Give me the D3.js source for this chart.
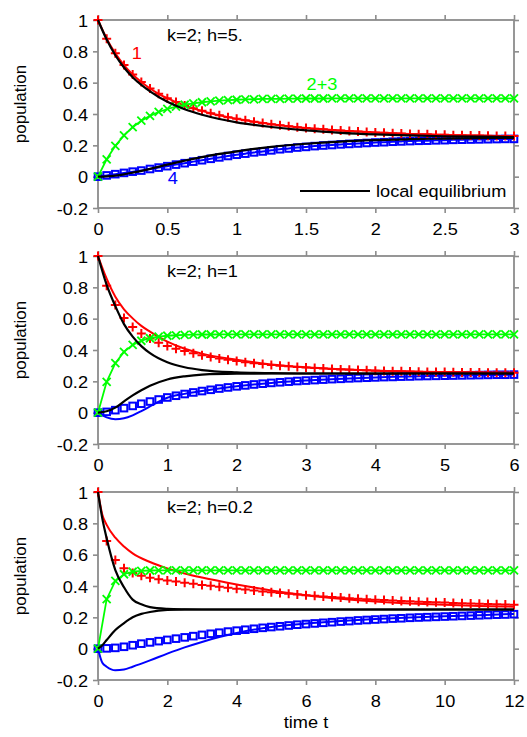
<!DOCTYPE html>
<html>
<head>
<meta charset="utf-8">
<script src="https://cdn.jsdelivr.net/npm/d3@7"></script>
<style>
  body { margin: 0; background: #fff; }
  svg { display: block; }
  text { font-family: "Liberation Sans", Arial, Helvetica, sans-serif; }
</style>
</head>
<body>
<svg id="chart" width="527" height="737"></svg>
<script>
// ---- sample times of the marker series ----
const topTimes = [0,0.0625,0.125,0.1875,0.25,0.3125,0.375,0.4375,0.5,0.5625,0.625,0.6875,0.75,0.8125,0.875,0.9375,1,1.0625,1.125,1.1875,1.25,1.3125,1.375,1.4375,1.5,1.5625,1.625,1.6875,1.75,1.8125,1.875,1.9375,2,2.0625,2.125,2.1875,2.25,2.3125,2.375,2.4375,2.5,2.5625,2.625,2.6875,2.75,2.8125,2.875,2.9375,3];
const midTimes = [0,0.125,0.25,0.375,0.5,0.625,0.75,0.875,1,1.125,1.25,1.375,1.5,1.625,1.75,1.875,2,2.125,2.25,2.375,2.5,2.625,2.75,2.875,3,3.125,3.25,3.375,3.5,3.625,3.75,3.875,4,4.125,4.25,4.375,4.5,4.625,4.75,4.875,5,5.125,5.25,5.375,5.5,5.625,5.75,5.875,6];
const botTimes = [0,0.25,0.5,0.75,1,1.25,1.5,1.75,2,2.25,2.5,2.75,3,3.25,3.5,3.75,4,4.25,4.5,4.75,5,5.25,5.5,5.75,6,6.25,6.5,6.75,7,7.25,7.5,7.75,8,8.25,8.5,8.75,9,9.25,9.5,9.75,10,10.25,10.5,10.75,11,11.25,11.5,11.75,12];

// ---- panel 1: k=2; h=5. ----
const topRed = [1.000,0.881,0.787,0.712,0.652,0.604,0.563,0.529,0.501,0.476,0.455,0.436,0.420,0.405,0.392,0.380,0.369,0.360,0.351,0.343,0.335,0.328,0.322,0.316,0.311,0.306,0.302,0.298,0.294,0.291,0.288,0.285,0.282,0.280,0.277,0.275,0.273,0.271,0.270,0.268,0.267,0.265,0.264,0.263,0.262,0.261,0.260,0.259,0.259];
const topGreen = [0,0.111,0.197,0.264,0.316,0.357,0.388,0.413,0.432,0.447,0.459,0.468,0.475,0.481,0.485,0.488,0.491,0.493,0.494,0.496,0.497,0.497,0.498,0.498,0.499,0.499,0.499,0.5,0.5,0.5,0.5,0.5,0.5,0.5,0.5,0.5,0.5,0.5,0.5,0.5,0.5,0.5,0.5,0.5,0.5,0.5,0.5,0.5,0.5];
const topBlue = [0,0.008,0.016,0.024,0.032,0.039,0.049,0.058,0.067,0.077,0.086,0.096,0.105,0.114,0.123,0.132,0.140,0.147,0.155,0.161,0.168,0.175,0.180,0.186,0.190,0.195,0.199,0.202,0.206,0.209,0.212,0.215,0.218,0.220,0.223,0.225,0.227,0.229,0.230,0.232,0.233,0.235,0.236,0.237,0.238,0.239,0.240,0.241,0.241];
const topEqTimes = [0,0.0625,0.125,0.1875,0.25,0.375,0.5,0.625,0.75,0.875,1,1.25,1.5,1.75,2,2.25,2.5,2.75,3];
const topEq1 = [1,0.875,0.775,0.697,0.635,0.545,0.478,0.43,0.395,0.368,0.347,0.317,0.295,0.28,0.27,0.263,0.258,0.255,0.253];
const topEq4 = [0,0.002,0.007,0.015,0.026,0.05,0.077,0.102,0.125,0.145,0.162,0.19,0.21,0.224,0.233,0.239,0.243,0.246,0.248];

// ---- panel 2: k=2; h=1 ----
const midRed = [1.000,0.810,0.688,0.605,0.547,0.505,0.473,0.447,0.426,0.408,0.393,0.379,0.367,0.356,0.346,0.337,0.329,0.322,0.316,0.310,0.305,0.300,0.296,0.292,0.288,0.285,0.282,0.279,0.276,0.274,0.272,0.270,0.268,0.266,0.265,0.264,0.262,0.261,0.260,0.259,0.259,0.258,0.257,0.256,0.256,0.255,0.255,0.254,0.254];
const midGreen = [0,0.197,0.316,0.388,0.432,0.459,0.475,0.485,0.491,0.494,0.497,0.498,0.499,0.499,0.5,0.5,0.5,0.5,0.5,0.5,0.5,0.5,0.5,0.5,0.5,0.5,0.5,0.5,0.5,0.5,0.5,0.5,0.5,0.5,0.5,0.5,0.5,0.5,0.5,0.5,0.5,0.5,0.5,0.5,0.5,0.5,0.5,0.5,0.5];
const midBlue = [0,0.005,0.016,0.029,0.043,0.057,0.071,0.084,0.097,0.108,0.119,0.129,0.138,0.146,0.154,0.161,0.168,0.174,0.180,0.185,0.190,0.194,0.198,0.202,0.205,0.208,0.211,0.214,0.216,0.219,0.221,0.223,0.225,0.227,0.228,0.230,0.231,0.233,0.234,0.235,0.236,0.237,0.238,0.239,0.240,0.241,0.242,0.242,0.243];
const midLineTimes = [0,0.125,0.25,0.375,0.5,0.625,0.75,1,1.25,1.5,2,2.5,3,4,5,6];
const midRedLine = [1,0.855,0.74,0.66,0.602,0.554,0.517,0.453,0.408,0.377,0.338,0.308,0.29,0.269,0.259,0.254];
const midBlueLine = [0,-0.03,-0.042,-0.036,-0.017,0.01,0.04,0.095,0.12,0.138,0.168,0.19,0.205,0.225,0.236,0.243];
const midEq1 = [1,0.815,0.68,0.565,0.485,0.425,0.38,0.322,0.29,0.272,0.257,0.252,0.25,0.25,0.25,0.25];
const midEq4 = [0,0.009,0.032,0.072,0.11,0.143,0.172,0.212,0.232,0.243,0.249,0.25,0.25,0.25,0.25,0.25];

// ---- panel 3: k=2; h=0.2 ----
const botRed = [1.000,0.687,0.566,0.513,0.483,0.465,0.452,0.443,0.435,0.428,0.421,0.414,0.407,0.401,0.395,0.389,0.383,0.377,0.371,0.365,0.360,0.355,0.350,0.345,0.341,0.337,0.333,0.329,0.326,0.322,0.319,0.316,0.313,0.310,0.307,0.305,0.302,0.300,0.298,0.296,0.294,0.292,0.290,0.288,0.286,0.285,0.283,0.282,0.280];
const botGreen = [0,0.316,0.432,0.475,0.491,0.497,0.499,0.5,0.5,0.5,0.5,0.5,0.5,0.5,0.5,0.5,0.5,0.5,0.5,0.5,0.5,0.5,0.5,0.5,0.5,0.5,0.5,0.5,0.5,0.5,0.5,0.5,0.5,0.5,0.5,0.5,0.5,0.5,0.5,0.5,0.5,0.5,0.5,0.5,0.5,0.5,0.5,0.5,0.5];
const botBlue = [0,0.002,0.005,0.012,0.022,0.032,0.040,0.048,0.056,0.064,0.072,0.080,0.088,0.095,0.102,0.109,0.115,0.121,0.127,0.133,0.138,0.143,0.148,0.153,0.157,0.161,0.165,0.169,0.173,0.176,0.180,0.183,0.186,0.189,0.192,0.194,0.197,0.199,0.201,0.203,0.205,0.207,0.209,0.211,0.213,0.215,0.217,0.218,0.220];
const botRedLineTimes = [0,0.125,0.25,0.5,0.75,1,1.5,2,2.5,3,4,5,6,7,8,9,10,11,12];
const botRedLine = [1,0.855,0.79,0.708,0.652,0.608,0.553,0.512,0.48,0.454,0.41,0.372,0.341,0.318,0.301,0.289,0.28,0.273,0.268];
const botBlueLineTimes = [0,0.125,0.25,0.5,0.75,1,1.5,2,2.5,3,3.5,4,5,6,7,8,9,10,11,12];
const botBlueLine = [0,-0.09,-0.115,-0.138,-0.133,-0.115,-0.075,-0.032,0.008,0.043,0.074,0.1,0.138,0.16,0.176,0.189,0.199,0.207,0.214,0.222];
const botEqTimes = [0,0.125,0.25,0.5,0.75,1,1.25,1.5,2,2.5,3,4,6,8,10,12];
const botEq1 = [1,0.83,0.705,0.502,0.392,0.313,0.283,0.265,0.254,0.251,0.25,0.25,0.25,0.25,0.25,0.25];
const botEq4 = [0,0.022,0.055,0.119,0.163,0.2,0.222,0.234,0.247,0.25,0.25,0.25,0.25,0.25,0.25,0.25];

// ---- axes ----
const yTicks = [-0.2,0,0.2,0.4,0.6,0.8,1];
const yTickLabels = ["-0.2","0","0.2","0.4","0.6","0.8","1"];
const topXTicks = [0,0.5,1,1.5,2,2.5,3];
const topXLabels = ["0","0.5","1","1.5","2","2.5","3"];
const midXTicks = [0,1,2,3,4,5,6];
const midXLabels = ["0","1","2","3","4","5","6"];
const botXTicks = [0,2,4,6,8,10,12];
const botXLabels = ["0","2","4","6","8","10","12"];
const panelTitles = ["k=2; h=5.", "k=2; h=1", "k=2; h=0.2"];

const zip = (ts, vs) => ts.map((t, i) => [t, vs[i]]);

const panels = [
  { title: panelTitles[0], xMax: 3, xTicks: topXTicks, xLabels: topXLabels,
    red: zip(topTimes, topRed), green: zip(topTimes, topGreen), blue: zip(topTimes, topBlue),
    redLine: zip(topTimes, topRed), blueLine: zip(topTimes, topBlue),
    eq1: zip(topEqTimes, topEq1), eq4: zip(topEqTimes, topEq4) },
  { title: panelTitles[1], xMax: 6, xTicks: midXTicks, xLabels: midXLabels,
    red: zip(midTimes, midRed), green: zip(midTimes, midGreen), blue: zip(midTimes, midBlue),
    redLine: zip(midLineTimes, midRedLine), blueLine: zip(midLineTimes, midBlueLine),
    eq1: zip(midLineTimes, midEq1), eq4: zip(midLineTimes, midEq4) },
  { title: panelTitles[2], xMax: 12, xTicks: botXTicks, xLabels: botXLabels,
    red: zip(botTimes, botRed), green: zip(botTimes, botGreen), blue: zip(botTimes, botBlue),
    redLine: zip(botRedLineTimes, botRedLine), blueLine: zip(botBlueLineTimes, botBlueLine),
    eq1: zip(botEqTimes, botEq1), eq4: zip(botEqTimes, botEq4) }
];

// ---- layout ----
const SX = 1.07;             // horizontal glyph stretch of the lettering
const FS = 17;               // font size
const left = 98, plotW = 416, plotH = 188;
const panelTops = [20, 256, 492];
const frameColor = "#8c8c8c";
const RED = "#ff0000", GREEN = "#00ff00", BLUE = "#0000ff";

const svg = d3.select("#chart");

function stretchedText(parent, x, y, str, opts = {}) {
  const g = parent.append("g").attr("transform", `translate(${x},${y}) scale(${SX},1)`);
  return g.append("text")
    .attr("x", 0).attr("y", 0)
    .attr("text-anchor", opts.anchor || "start")
    .attr("dominant-baseline", opts.baseline || "auto")
    .attr("font-size", opts.size || FS)
    .attr("fill", opts.fill || "#000")
    .text(str);
}

panels.forEach((p, pi) => {
  const top = panelTops[pi];
  const x = d3.scaleLinear().domain([0, p.xMax]).range([left, left + plotW]);
  const y = d3.scaleLinear().domain([-0.2, 1]).range([top + plotH, top]);
  const g = svg.append("g");

  // frame ticks on all four sides, pointing outward
  const styleAxis = sel => {
    sel.select(".domain").remove();
    sel.selectAll(".tick line").attr("stroke", frameColor).attr("stroke-width", 1.6);
  };
  g.append("g").attr("transform", `translate(${left},0)`)
    .call(d3.axisLeft(y).tickValues(yTicks).tickSize(5)
      .tickFormat((d, i) => yTickLabels[i]))
    .call(styleAxis)
    .call(s => s.selectAll(".tick text")
      .attr("x", -10 / SX).attr("dy", "0.36em")
      .attr("transform", `scale(${SX},1)`)
      .attr("font-size", FS).attr("fill", "#000")
      .attr("font-family", '"Liberation Sans", Arial, sans-serif'));
  g.append("g").attr("transform", `translate(${left + plotW},0)`)
    .call(d3.axisRight(y).tickValues(yTicks).tickSize(5).tickFormat(""))
    .call(styleAxis);
  g.append("g").attr("transform", `translate(0,${top})`)
    .call(d3.axisTop(x).tickValues(p.xTicks).tickSize(5).tickFormat(""))
    .call(styleAxis);
  g.append("g").attr("transform", `translate(0,${top + plotH})`)
    .call(d3.axisBottom(x).tickValues(p.xTicks).tickSize(5)
      .tickFormat((d, i) => p.xLabels[i]))
    .call(styleAxis)
    .call(s => s.selectAll(".tick text")
      .attr("y", 27).attr("dy", null)
      .attr("transform", `scale(${SX},1)`)
      .attr("font-size", FS).attr("fill", "#000")
      .attr("font-family", '"Liberation Sans", Arial, sans-serif'));

  g.append("rect")
    .attr("x", left).attr("y", top).attr("width", plotW).attr("height", plotH)
    .attr("fill", "none").attr("stroke", frameColor).attr("stroke-width", 1.8);

  // y label
  g.append("text")
    .attr("transform", `translate(26,${top + plotH / 2 - 10}) rotate(-90)`)
    .attr("text-anchor", "middle")
    .attr("font-size", FS)
    .text("population");

  const plot = g.append("g");
  const lineSmooth = d3.line().x(d => x(d[0])).y(d => y(d[1])).curve(d3.curveMonotoneX);
  const lineStraight = d3.line().x(d => x(d[0])).y(d => y(d[1]));

  // species 4: line and open squares
  plot.append("path").attr("d", lineSmooth(p.blueLine))
    .attr("fill", "none").attr("stroke", BLUE).attr("stroke-width", 2);
  plot.append("g").selectAll("rect").data(p.blue).join("rect")
    .attr("x", d => x(d[0]) - 3.3).attr("y", d => y(d[1]) - 3.3)
    .attr("width", 6.6).attr("height", 6.6)
    .attr("fill", "none").attr("stroke", BLUE).attr("stroke-width", 2);

  // species 1: line and plus markers
  plot.append("path").attr("d", lineSmooth(p.redLine))
    .attr("fill", "none").attr("stroke", RED).attr("stroke-width", 2);
  plot.append("g").selectAll("path").data(p.red).join("path")
    .attr("d", d => {
      const cx = x(d[0]), cy = y(d[1]);
      return `M${cx - 4.5},${cy}H${cx + 4.5}M${cx},${cy - 4.5}V${cy + 4.5}`;
    })
    .attr("stroke", RED).attr("stroke-width", 2);

  // species 2+3: line and crosses
  plot.append("path").attr("d", lineStraight(p.green))
    .attr("fill", "none").attr("stroke", GREEN).attr("stroke-width", 1.8);
  plot.append("g").selectAll("path").data(p.green).join("path")
    .attr("d", d => {
      const cx = x(d[0]), cy = y(d[1]);
      return `M${cx - 4},${cy - 4}L${cx + 4},${cy + 4}M${cx - 4},${cy + 4}L${cx + 4},${cy - 4}`;
    })
    .attr("stroke", GREEN).attr("stroke-width", 1.8);

  // local equilibrium curves
  [p.eq1, p.eq4].forEach(arr => {
    plot.append("path").attr("d", lineSmooth(arr))
      .attr("fill", "none").attr("stroke", "#000").attr("stroke-width", 2.2);
  });

  // panel title
  stretchedText(g, left + 69, top + 21, p.title);

  if (pi === 0) {
    stretchedText(g, x(0.28), y(0.79), "1", { anchor: "middle", baseline: "central", fill: RED });
    stretchedText(g, x(1.615), y(0.59), "2+3", { anchor: "middle", baseline: "central", fill: GREEN });
    stretchedText(g, x(0.54), y(-0.008), "4", { anchor: "middle", baseline: "central", fill: BLUE });
    // legend
    const ly = top + 171;
    g.append("line").attr("x1", left + 202).attr("x2", left + 272)
      .attr("y1", ly).attr("y2", ly).attr("stroke", "#000").attr("stroke-width", 2);
    stretchedText(g, left + 278, ly, "local equilibrium", { baseline: "central" });
  }
  if (pi === 2) {
    stretchedText(svg, left + plotW / 2, top + plotH + 48, "time t", { anchor: "middle" });
  }
});
</script>
</body>
</html>
